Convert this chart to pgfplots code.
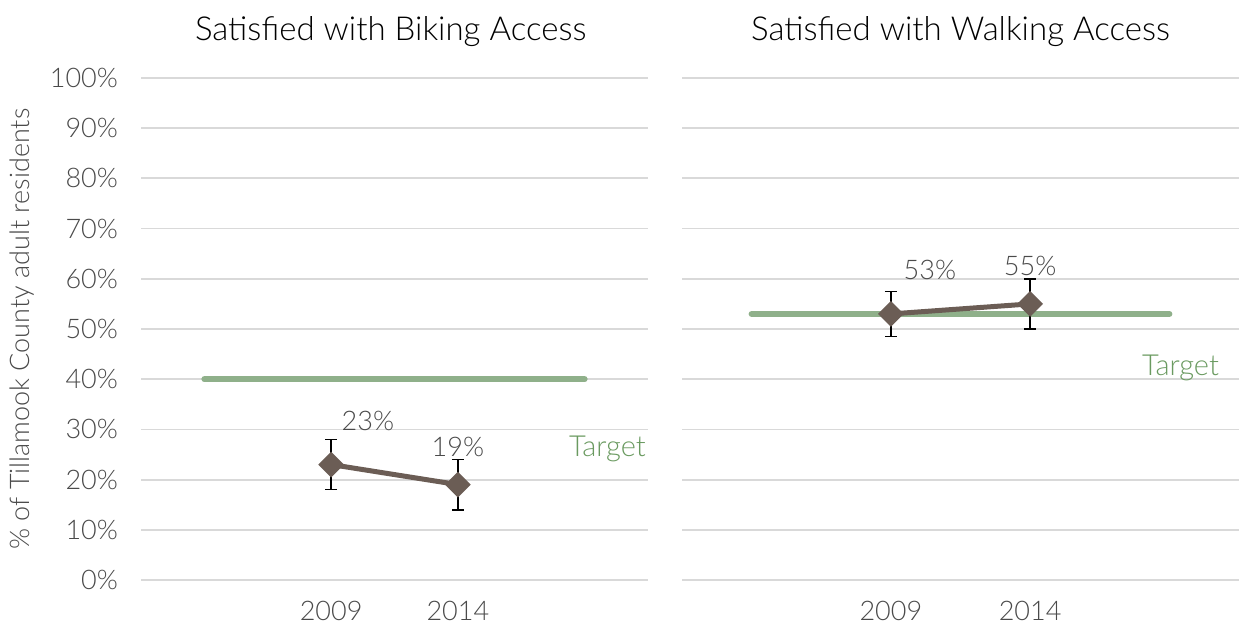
\documentclass[border=0pt]{standalone}
\usepackage{pgfplots}
\pgfplotsset{compat=1.18}
\usepackage{fontspec}
\setmainfont{Lato}[UprightFont=* Light]
\definecolor{lineC}{HTML}{6B5D55}
\definecolor{targC}{HTML}{8FB08A}
\definecolor{targT}{HTML}{6A9A60}
\definecolor{txtC}{HTML}{4A4A4A}
\definecolor{gridC}{HTML}{D9D9D9}
\pgfplotstableread{
x y e
1.5 23 5
2.5 19 5
}\bike
\pgfplotstableread{
x y ep em
1.5 53 4.5 4.5
2.5 55 5 5
}\walk
\newcommand\lf{\fontsize{13.5}{15}\selectfont}
\pgfplotsset{
  base/.style={
    scale only axis, height=251pt,
    xmin=0, xmax=4, ymin=0, ymax=100,
    axis line style={draw=none}, tick style={draw=none},
    ymajorgrids, grid style={gridC, line width=0.9pt},
    ytick={0,10,...,100},
    xtick={1.5,2.5}, xticklabels={2009,2014},
    xticklabel style={yshift=-7pt},
    ticklabel style={font=\lf, text=txtC},
    /pgf/number format/assume math mode=true,
    clip=false,
  },
}
\begin{document}
\begin{tikzpicture}
\useasboundingbox (0,0) rectangle (620.5pt,313.5pt);
\begin{axis}[base, at={(70.5pt,23.5pt)}, anchor=south west, width=253.5pt,
  yticklabel={\pgfmathprintnumber{\tick}\%}, yticklabel style={xshift=-8pt}]
\addplot[targC, line width=3pt, line cap=round] coordinates {(0.5,40) (3.5,40)};
\addplot[lineC, line width=2.5pt, mark=square*, mark size=3.3pt, mark options={rotate=45, solid},
  error bars/.cd, y dir=both, y explicit,
  error bar style={black, line width=0.8pt},
  error mark options={black, rotate=90, mark size=3pt, line width=0.8pt}]
  table[x=x, y=y, y error=e] {\bike};
\node[text=txtC, font=\lf] at (axis cs:1.79,31.7) {23\%};
\node[text=txtC, font=\lf] at (axis cs:2.5,26.5) {19\%};
\node[text=targT, font=\fontsize{14.5}{16}\selectfont] at (axis cs:3.68,26.1) {Target};
\node[font=\fontsize{16.5}{19}\selectfont] at (axis cs:1.97,109.2) {Satisfied with Biking Access};
\node[rotate=90, text=txtC, font=\lf] at (axis cs:-0.94,50) {\% of Tillamook County adult residents};
\end{axis}
\begin{axis}[base, at={(341pt,23.5pt)}, anchor=south west, width=278.5pt, yticklabels={}]
\addplot[targC, line width=3pt, line cap=round] coordinates {(0.5,53) (3.5,53)};
\addplot[lineC, line width=2.5pt, mark=square*, mark size=3.3pt, mark options={rotate=45, solid},
  error bars/.cd, y dir=both, y explicit,
  error bar style={black, line width=0.8pt},
  error mark options={black, rotate=90, mark size=3pt, line width=0.8pt}]
  table[x=x, y=y, y error plus=ep, y error minus=em] {\walk};
\node[text=txtC, font=\lf] at (axis cs:1.78,61.8) {53\%};
\node[text=txtC, font=\lf] at (axis cs:2.5,62.5) {55\%};
\node[text=targT, font=\fontsize{14.5}{16}\selectfont] at (axis cs:3.58,42.2) {Target};
\node[font=\fontsize{16.5}{19}\selectfont] at (axis cs:2,109.2) {Satisfied with Walking Access};
\end{axis}
\end{tikzpicture}
\end{document}
